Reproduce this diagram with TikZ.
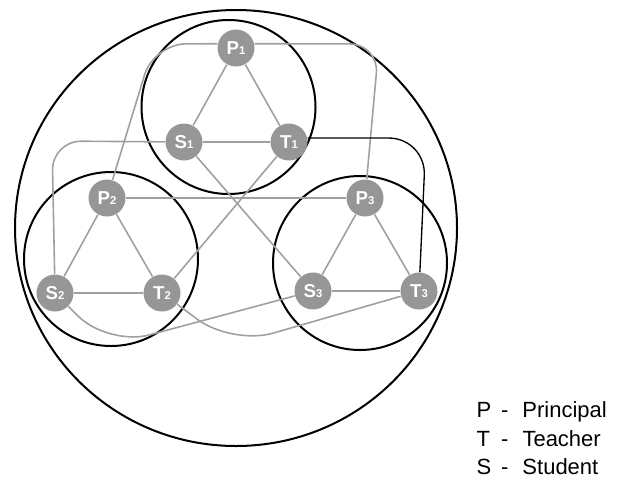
\documentclass[tikz,border=0pt]{standalone}
\usepackage{fontspec}
\setmainfont{Liberation Sans}
\definecolor{nodegray}{RGB}{150,150,150}
\definecolor{linkgray}{RGB}{160,160,160}
\tikzset{every picture/.style={line width=0.75pt}}
\tikzset{
  member/.style={circle, fill=nodegray, inner sep=0pt, minimum size=27.75pt, text=white, font=\fontsize{14}{14}\selectfont\bfseries},
  link/.style={draw=linkgray, line width=1.2pt},
  ring/.style={draw=black, line width=1.5pt},
  legend/.style={anchor=base west, inner sep=0pt, font=\fontsize{16.5}{16.5}\selectfont}
}
\newcommand{\memb}[2]{#1{\fontsize{8.5}{8.5}\selectfont #2}}

\begin{document}
\begin{tikzpicture}[x=0.75pt,y=0.75pt,yscale=-1,xscale=1]
\useasboundingbox (0,0) rectangle (623,486);

%Shape: Ellipse [outer]
\draw[ring] (236,228) ellipse (221 and 218);
%Shape: Circle [group 1]
\draw[ring] (228.5,107) circle (87);
%Shape: Circle [group 2]
\draw[ring] (111,259) circle (87);
%Shape: Circle [group 3]
\draw[ring] (360,263) circle (87);

% Members
\node[member] (P1) at (236,48) {\memb{P}{1}};
\node[member] (S1) at (184,142) {\memb{S}{1}};
\node[member] (T1) at (289,142) {\memb{T}{1}};
\node[member] (P2) at (107,198) {\memb{P}{2}};
\node[member] (S2) at (55,293) {\memb{S}{2}};
\node[member] (T2) at (162,293) {\memb{T}{2}};
\node[member] (P3) at (365,198) {\memb{P}{3}};
\node[member] (S3) at (313,291) {\memb{S}{3}};
\node[member] (T3) at (419,291) {\memb{T}{3}};

% Links inside groups
\foreach \g in {1,2,3}{
  \draw[link] (P\g) -- (S\g) -- (T\g) -- (P\g);
}

% Links between groups
\draw[link] (S1) -- (S3);
\draw[link] (T1) -- (T2);
\draw[link] (P2) -- (P3);
\draw[link, rounded corners=24] (P1.167) -- (154,44) -- (P2);
\draw[link, rounded corners=22] (P1.13) -- (379,44) -- (P3);
\draw[link, rounded corners=22] (S1) -- (52,141) -- (S2);
\draw[black, line width=1pt, rounded corners=28] (T1.12) -- (426,138) -- (T3);
\draw[link, rounded corners=32] (S2) -- (108,346) -- (S3);
\draw[link, rounded corners=32] (T2) -- (232,345) -- (T3);

% Text Node
\node[legend] (legP) at (476,417) {\makebox[18.5pt][l]{P}\makebox[16pt][l]{-}Principal};
% Text Node
\node[legend] (legT) at (476,446) {\makebox[18.5pt][l]{T}\makebox[16pt][l]{-}Teacher};
% Text Node
\node[legend] (legS) at (476,474) {\makebox[18.5pt][l]{S}\makebox[16pt][l]{-}Student};

\end{tikzpicture}
\end{document}
